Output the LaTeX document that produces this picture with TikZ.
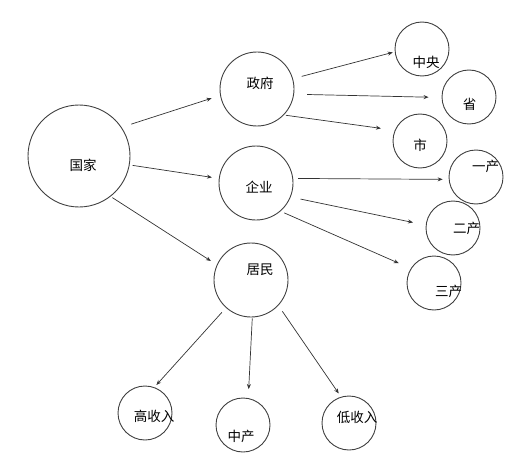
\documentclass[tikz,border=0pt]{standalone}
\usepackage{fontspec}
\setmainfont{Noto Sans CJK SC}
\usetikzlibrary{arrows.meta}

\begin{document}
\begin{tikzpicture}[x=1pt, y=-1pt, >={Stealth[length=5pt, width=4pt]},
  every node/.style={font=\fontsize{13.5}{16}\selectfont},
  ring/.style={draw=black!75, line width=0.9pt, circle, inner sep=0pt, minimum size=#1},
  link/.style={->, draw=black!80, line width=0.7pt}]
  \useasboundingbox (0,0) rectangle (527,468);
  % first level
  \node[ring=102pt, label={[xshift=4pt, yshift=-9pt]center:国家}] (guojia) at (79,156) {};
  \node[ring=74pt, label={[xshift=3pt, yshift=5.5pt]center:政府}] (zhengfu) at (257,89) {};
  \node[ring=74pt, label={[xshift=3pt, yshift=-4pt]center:企业}] (qiye) at (256,183) {};
  \node[ring=74pt, label={[xshift=9pt, yshift=10pt]center:居民}] (jumin) at (251,280) {};
  % second level
  \node[ring=54pt, label={[xshift=4pt, yshift=-13pt]center:中央}] (zhongyang) at (422,49) {};
  \node[ring=54pt, label={[xshift=0.5pt, yshift=-7pt]center:省}] (sheng) at (469,97) {};
  \node[ring=54pt, label={[yshift=-4pt]center:市}] (shi) at (420,141) {};
  \node[ring=54pt, label={[xshift=9.5pt, yshift=10.5pt]center:一产}] (yichan) at (476,177) {};
  \node[ring=54pt, label={[xshift=13.5pt, yshift=-0.5pt]center:二产}] (erchan) at (453,228) {};
  \node[ring=54pt, label={[xshift=14.5pt, yshift=-8pt]center:三产}] (sanchan) at (434,283) {};
  \node[ring=54pt, label={[xshift=9pt, yshift=-3pt]center:高收入}] (gaoshouru) at (145,413) {};
  \node[ring=54pt, label={[xshift=-2pt, yshift=-11pt]center:中产}] (zhongchan) at (243,425) {};
  \node[ring=54pt, label={[xshift=8pt, yshift=6pt]center:低收入}] (dishouru) at (349,423) {};
  % arrows
  \draw[link, shorten <=10pt, shorten >=9pt] (guojia.34) -- (zhengfu.190);
  \draw[link, shorten <=3pt, shorten >=7pt] (guojia.350) -- (qiye.173);
  \draw[link, shorten <=2pt, shorten >=7pt] (guojia.308) -- (jumin.156);
  \draw[link, shorten <=9pt, shorten >=2pt] (zhengfu.16) -- (zhongyang.186);
  \draw[link, shorten <=13pt, shorten >=13pt] (zhengfu.352) -- (sheng.181);
  \draw[link, shorten <=2pt, shorten >=14pt] (zhengfu.316) -- (shi.157);
  \draw[link, shorten <=5pt, shorten >=6pt] (qiye.7) -- (yichan.185);
  \draw[link, shorten <=10pt, shorten >=13pt] (qiye.338) -- (erchan.174);
  \draw[link, shorten <=4pt, shorten >=13pt] (qiye.311) -- (sanchan.148);
  \draw[link, shorten <=6pt, shorten >=3pt] (jumin.228) -- (gaoshouru.70);
  \draw[link, shorten <=1pt, shorten >=9pt] (jumin.272) -- (zhongchan.79);
  \draw[link, shorten <=7pt, shorten >=4pt] (jumin.317) -- (dishouru.107);
\end{tikzpicture}
\end{document}
